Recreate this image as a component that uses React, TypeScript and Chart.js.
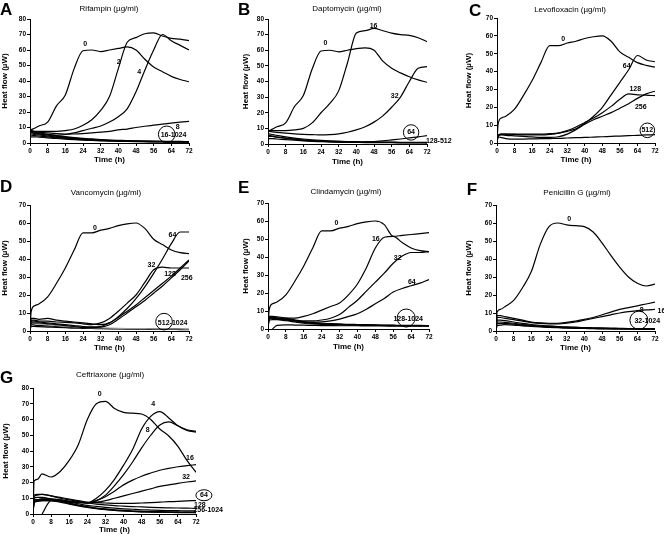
import React, { useEffect, useRef } from "react";
import { Chart, registerables } from "chart.js";
Chart.register(...registerables);

const FONT = '"Liberation Sans", Arial, sans-serif';

// shared time grid (h)
const hours = [0, 0.5, 2, 4, 8, 12, 16, 20, 24, 28, 32, 36, 40, 44, 48, 52, 56, 60, 64, 68, 72];
const xTicks = [0, 8, 16, 24, 32, 40, 48, 56, 64, 72];

// A: Rifampin
const rif0 = [8, 8.5, 9.5, 11, 13.5, 24, 31, 48, 59.5, 60, 59, 60, 61, 62, 60, 54, 49, 46, 43, 41, 39.5];
const rif2 = [8, 8, 7.5, 7.5, 7.5, 7.5, 8, 9, 11.5, 15, 21, 30, 48, 65, 68, 70.5, 71, 69, 67.5, 67, 66];
const rif4 = [7, 7, 6.5, 6, 5.5, 5, 5.5, 6.5, 8, 9.5, 11, 13.5, 17, 22, 33, 47, 60, 70, 66, 63, 60];
const rif8 = [8, 8, 7.5, 7, 6.5, 6, 5.8, 5.8, 6, 6.5, 7, 7.5, 8.5, 9, 10, 10.8, 11.5, 12.2, 12.8, 13.5, 14];
const rifHi1 = [7.5, 7.5, 7, 6.6, 5.6, 4.8, 4.1, 3.5, 3, 2.6, 2.2, 1.9, 1.7, 1.5, 1.4, 1.3, 1.2, 1.1, 1.0, 1.0, 0.9];
const rifHi2 = [6.5, 6.5, 6.2, 5.8, 5, 4.3, 3.7, 3.1, 2.7, 2.3, 2, 1.7, 1.5, 1.4, 1.3, 1.2, 1.1, 1, 0.9, 0.9, 0.8];
const rifHi3 = [5.5, 5.8, 5.5, 5.2, 4.5, 3.8, 3.3, 2.8, 2.4, 2.1, 1.8, 1.6, 1.4, 1.2, 1.1, 1, 0.9, 0.9, 0.8, 0.8, 0.7];
const rifHi4 = [4.5, 5, 4.8, 4.5, 3.9, 3.4, 2.9, 2.5, 2.1, 1.8, 1.6, 1.4, 1.2, 1.1, 1, 0.9, 0.8, 0.8, 0.7, 0.7, 0.6];
const rifHi5 = [3, 4, 4, 3.8, 3.3, 2.9, 2.5, 2.1, 1.8, 1.6, 1.4, 1.2, 1.1, 1, 0.9, 0.8, 0.7, 0.7, 0.6, 0.6, 0.5];

// B: Daptomycin
const dap0 = [8, 8.5, 9.5, 11, 13.5, 24, 31, 48, 59.5, 60, 59, 60, 61, 61.5, 60, 53, 48.5, 45.5, 43, 41, 39.5];
const dap16 = [8.5, 8.5, 8.5, 8.5, 8.5, 9, 10, 13.5, 20, 26, 34, 52, 71, 72.5, 74, 72.5, 71, 70, 69.5, 68, 65.5];
const dap32 = [8, 8, 7.8, 7.5, 7, 6.5, 6.2, 6, 5.8, 6, 6.5, 7.5, 9, 11, 14, 18, 23.5, 30, 40, 48.5, 49.5];
const dap64 = [5, 5.5, 5, 4.5, 3.6, 2.9, 2.3, 1.9, 1.6, 1.4, 1.2, 1.1, 1.1, 1.3, 1.6, 2, 2.6, 3.2, 3.9, 4.6, 5.3];
const dapHi1 = [6, 6.5, 6, 5.5, 4.6, 3.8, 3.2, 2.7, 2.3, 2, 1.8, 1.6, 1.5, 1.4, 1.3, 1.2, 1.2, 1.1, 1.1, 1, 1];
const dapHi2 = [4, 5, 4.8, 4.4, 3.7, 3.1, 2.6, 2.2, 1.9, 1.7, 1.5, 1.4, 1.3, 1.2, 1.1, 1, 1, 0.9, 0.9, 0.9, 0.8];
const dapHi3 = [2, 3.5, 3.4, 3.2, 2.8, 2.4, 2, 1.7, 1.5, 1.3, 1.2, 1.1, 1, 0.9, 0.9, 0.8, 0.8, 0.7, 0.7, 0.7, 0.6];

// C: Levofloxacin
const levo0 = [0, 10.5, 14, 15, 19, 26.5, 35, 45, 54.5, 54.5, 56, 57, 58.5, 59.5, 60, 57, 51, 48, 45, 43.5, 42.5];
const levo64 = [0, 4, 5, 5, 5, 5, 5, 5, 5.2, 5.5, 6.5, 8, 11, 15, 20, 27, 34, 41, 49, 46.5, 45.5];
const levo128 = [0, 4.5, 5, 5, 4.8, 4.6, 4.5, 4.5, 4.8, 5.5, 7, 9, 11.5, 14, 17, 20.5, 24.5, 27.5, 27, 26.8, 26.5];
const levo256 = [0, 4, 4.5, 4.3, 4, 3.7, 3.4, 3.2, 3.2, 3.5, 5, 7.5, 10.5, 13, 15, 17, 19.5, 22, 25, 27.5, 29];
const levo512 = [0, 3.5, 3, 2.5, 2.2, 2.2, 2.3, 2.4, 2.5, 2.6, 2.8, 3, 3.1, 3.3, 3.5, 3.7, 3.9, 4.1, 4.3, 4.5, 4.7];

// D: Vancomycin
const vanc0 = [0, 10.5, 14, 15, 19, 26.5, 35, 45, 54.5, 54.5, 56, 57, 58.5, 59.5, 60, 57, 51, 48, 45, 43.5, 43];
const vanc32 = [0, 6, 6, 5.5, 5.5, 5, 4.8, 4.5, 4, 3.5, 4.5, 7, 11, 15.5, 20, 27, 34, 35.5, 35, 35, 35];
const vanc64 = [0, 7, 7, 6.5, 7, 6, 5.5, 5, 4.5, 4, 3.5, 4.5, 8, 12.5, 18, 24.5, 32, 40, 48.5, 55, 55];
const vanc128 = [0, 5.5, 5.5, 5, 4.5, 4, 3.5, 3, 2.5, 2.3, 2.5, 4.5, 7.5, 11, 14.5, 18.5, 22.5, 26.5, 30.5, 35, 39.5];
const vanc256 = [0, 4.5, 4.5, 4.5, 4, 3.5, 3, 2.5, 2, 2, 2.2, 3.5, 6.5, 10, 13.5, 17, 21, 25, 29.5, 34, 39];
const vancHi1 = [0, 4.5, 4.2, 4, 3.5, 3, 2.6, 2.3, 2, 1.8, 1.7, 1.6, 1.5, 1.4, 1.3, 1.3, 1.2, 1.2, 1.1, 1.1, 1];
const vancHi2 = [0, 3.5, 3.3, 3.1, 2.8, 2.5, 2.2, 2, 1.8, 1.6, 1.5, 1.4, 1.3, 1.2, 1.2, 1.1, 1.1, 1, 1, 1, 0.9];
const vancHi3 = [0, 2.5, 2.5, 2.4, 2.2, 2, 1.8, 1.6, 1.5, 1.4, 1.3, 1.2, 1.1, 1.1, 1, 1, 0.9, 0.9, 0.9, 0.8, 0.8];

// E: Clindamycin
const clin0 = [0, 10.5, 14, 15, 19, 26.5, 35, 45, 54.5, 54.5, 56, 57, 58.5, 59.5, 60, 58, 51.5, 52, 52.5, 53, 53.5];
const clin16 = [0, 6.5, 6.5, 6.2, 6, 6, 7, 8.5, 10.5, 12.5, 14.5, 19, 25, 34, 45, 51, 51.5, 48, 45, 43.5, 43];
const clin32 = [0, 6.5, 6.5, 6, 5.5, 5, 4.5, 4.5, 5, 6, 8, 12, 16, 21, 26, 31, 36.5, 40.5, 42.5, 42.5, 43];
const clin64 = [0, 6, 6, 5.5, 5, 4.5, 4, 3.8, 4, 4.5, 5.5, 7, 8.5, 11, 14, 17, 20.5, 22.5, 24, 25.5, 27.5];
const clinHi1 = [0, 7, 7, 6.8, 6, 5, 4, 3.5, 3.2, 3, 2.8, 2.6, 2.5, 2.4, 2.3, 2.2, 2.1, 2, 2, 2, 1.9];
const clinHi2 = [0, 6, 6, 5.8, 5.2, 4.4, 3.6, 3.1, 2.8, 2.6, 2.5, 2.4, 2.3, 2.2, 2.1, 2, 2, 1.9, 1.9, 1.8, 1.8];
const clinHi3 = [0, 5, 5.2, 5.2, 4.6, 3.9, 3.2, 2.8, 2.6, 2.4, 2.3, 2.2, 2.1, 2, 2, 1.9, 1.9, 1.8, 1.8, 1.7, 1.7];
const clinHi4 = [null, null, 0, 2, 2.3, 2.2, 2.1, 2, 1.9, 1.9, 1.8, 1.8, 1.8, 1.7, 1.7, 1.7, 1.6, 1.6, 1.6, 1.6, 1.6];

// F: Penicillin G
const pen0 = [0, 10.5, 12, 13.5, 17, 24, 33, 48, 58, 60, 59, 58.5, 58, 55, 49, 42, 35.5, 30, 26.5, 25, 26];
const pen8 = [0, 8.5, 8.5, 8, 7, 6, 5, 4.5, 4.3, 4.3, 4.8, 5.5, 6.5, 7.5, 9, 10.5, 12, 13, 14, 15, 16];
const pen16 = [0, 7.5, 7.5, 7, 6.3, 5.5, 4.7, 4.2, 4, 4, 4.3, 5, 6, 7, 8, 9, 10, 10.8, 11.3, 11.7, 12];
const penHi1 = [0, 6, 6, 5.8, 5, 4.2, 3.6, 3.2, 2.8, 2.5, 2.3, 2.1, 1.9, 1.8, 1.7, 1.6, 1.5, 1.4, 1.4, 1.3, 1.3];
const penHi2 = [0, 5, 5, 4.8, 4.3, 3.7, 3.2, 2.8, 2.5, 2.2, 2, 1.8, 1.7, 1.6, 1.5, 1.4, 1.3, 1.3, 1.2, 1.2, 1.1];
const penHi3 = [0, 4, 4.2, 4.2, 3.8, 3.3, 2.9, 2.5, 2.2, 2, 1.8, 1.6, 1.5, 1.4, 1.3, 1.2, 1.2, 1.1, 1.1, 1, 1];
const penHi4 = [0, 3, 3.3, 3.5, 3.3, 2.9, 2.6, 2.3, 2, 1.8, 1.6, 1.5, 1.4, 1.3, 1.2, 1.1, 1.1, 1, 1, 0.9, 0.9];

// G: Ceftriaxone
const ceft0 = [0, 21, 22, 25.5, 23.5, 27, 34, 44, 60, 70, 71.5, 67, 64.5, 64, 63.5, 60, 54, 49.5, 43, 34, 26.5];
const ceft4 = [0, 9, 9, 9.5, 9.5, 9, 8, 7.5, 7, 10, 15, 22, 31, 41, 54, 62, 65, 61, 56, 53, 52];
const ceft8 = [0, 8.5, 9, 9.5, 9.5, 9, 8, 7.5, 7, 8.5, 12, 18, 25, 33, 42, 50, 56.5, 58.5, 56, 53.5, 52.5];
const ceft16 = [0, 8, 8.5, 9, 9, 8.5, 8, 7.5, 7, 8.5, 11, 14.5, 18.5, 21.5, 24, 26, 27.8, 29, 30, 30.7, 31.3];
const ceft32 = [0, 7.5, 8, 8.5, 8.5, 8, 7.5, 7, 7, 7.5, 8.5, 10, 11.5, 13, 14.5, 16, 17.5, 18.5, 19.5, 20.3, 21];
const ceft64 = [0, 12, 12.5, 12.5, 11.5, 10.5, 9.5, 8.5, 7.5, 7.2, 7, 6.8, 6.7, 6.8, 7, 7.2, 7.5, 7.8, 8, 8.3, 8.5];
const ceft128 = [0, 11, 12, 12.5, 11.5, 10, 9, 8, 7, 6.3, 5.8, 5.3, 5, 4.7, 4.5, 4.2, 4, 3.9, 3.8, 3.7, 3.6];
const ceftHi1 = [0, 10, 10.5, 10.5, 9.5, 8.5, 7.5, 6.5, 5.5, 4.8, 4.2, 3.7, 3.3, 3, 2.7, 2.5, 2.3, 2.2, 2.1, 2, 2];
const ceftHi2 = [0, 8.5, 9, 9.5, 9, 8, 6.8, 5.6, 4.6, 3.8, 3.2, 2.7, 2.3, 2, 1.8, 1.6, 1.5, 1.4, 1.3, 1.2, 1.2];
const ceftHi3 = [0, 7.5, 8, 8.5, 8.5, 7.5, 6.3, 5.2, 4.2, 3.4, 2.8, 2.3, 1.9, 1.6, 1.4, 1.3, 1.2, 1.1, 1, 1, 0.9];
const ceftHi4 = [null, null, null, 0, 8.5, 8, 6.8, 5.5, 4.5, 3.6, 2.9, 2.3, 1.9, 1.6, 1.4, 1.2, 1.1, 1, 0.9, 0.9, 0.8];

type Label = { text: string; x: number; y: number; align?: CanvasTextAlign };
type Circle = { x: number; y: number; rx: number; ry: number };
type Panel = {
  letter: string; title: string; yMax: number;
  series: (number | null)[][]; gray?: number[];
  labels: Label[]; circles: Circle[];
  left: number; top: number;
  x0: number; x72: number; yTop: number; yBottom: number;
  letterX: number; letterBase: number; titleX: number; titleY: number;
  yTitlePad: number; xTitleY: number;
};

const W = 240;
const H = 180;

const panels: Panel[] = [
  {
    letter: "A", title: "Rifampin (\u00b5g/ml)", yMax: 80,
    series: [rif0, rif2, rif4, rif8, rifHi1, rifHi2, rifHi3, rifHi4, rifHi5],
    labels: [
      { text: "0", x: 25, y: 64 }, { text: "2", x: 40.2, y: 52.4 }, { text: "4", x: 49.5, y: 46 },
      { text: "8", x: 66.9, y: 10.5 }, { text: "16-1024", x: 65, y: 5 },
    ],
    circles: [{ x: 61.9, y: 5.6, rx: 8.3, ry: 8.3 }],
    left: 0, top: 0, x0: 30, x72: 189, yTop: 19, yBottom: 143,
    letterX: 0, letterBase: 15, titleX: 109, titleY: 8.5, yTitlePad: 0, xTitleY: 159.5,
  },
  {
    letter: "B", title: "Daptomycin (\u00b5g/ml)", yMax: 80,
    series: [dap0, dap16, dap32, dap64, dapHi1, dapHi2, dapHi3],
    labels: [
      { text: "0", x: 26, y: 64.5 }, { text: "16", x: 47.8, y: 75.5 }, { text: "32", x: 57.4, y: 31 },
      { text: "64", x: 64.8, y: 7.4 }, { text: "128-512", x: 71.5, y: 2, align: "left" },
    ],
    circles: [{ x: 64.8, y: 7.4, rx: 7.7, ry: 7.7 }],
    left: 222, top: 0, x0: 46, x72: 205, yTop: 19, yBottom: 144,
    letterX: 16, letterBase: 15, titleX: 125, titleY: 8.5, yTitlePad: 18.5, xTitleY: 161.7,
  },
  {
    letter: "C", title: "Levofloxacin (\u00b5g/ml)", yMax: 70,
    series: [levo0, levo64, levo128, levo256, levo512],
    labels: [
      { text: "0", x: 30.2, y: 58.2 }, { text: "64", x: 59.1, y: 43.3 }, { text: "128", x: 63, y: 30 },
      { text: "256", x: 65.5, y: 20.3 }, { text: "512", x: 68.5, y: 7.1 },
    ],
    circles: [{ x: 68.5, y: 7.1, rx: 7.3, ry: 7.3 }],
    left: 444, top: 0, x0: 53, x72: 211, yTop: 18, yBottom: 143,
    letterX: 25, letterBase: 15.5, titleX: 126, titleY: 9.3, yTitlePad: 20, xTitleY: 160,
  },
  {
    letter: "D", title: "Vancomycin (\u00b5g/ml)", yMax: 70,
    series: [vanc0, vanc32, vanc64, vanc128, vanc256, vancHi1, vancHi2, vancHi3], gray: [5],
    labels: [
      { text: "0", x: 29.4, y: 57.4 }, { text: "64", x: 64.5, y: 53.3 }, { text: "32", x: 55, y: 36.7 },
      { text: "128", x: 63.4, y: 31.5 }, { text: "256", x: 71, y: 29.6 }, { text: "512-1024", x: 64.6, y: 4.6 },
    ],
    circles: [{ x: 60.7, y: 5.2, rx: 8.3, ry: 8.3 }],
    left: 0, top: 180, x0: 30, x72: 189, yTop: 25, yBottom: 151,
    letterX: 0, letterBase: 12, titleX: 106, titleY: 12.3, yTitlePad: 0, xTitleY: 167.7,
  },
  {
    letter: "E", title: "Clindamycin (\u00b5g/ml)", yMax: 70,
    series: [clin0, clin16, clin32, clin64, clinHi1, clinHi2, clinHi3, clinHi4],
    labels: [
      { text: "0", x: 30.6, y: 58.9 }, { text: "16", x: 48.2, y: 49.7 }, { text: "32", x: 58, y: 39.2 },
      { text: "64", x: 64.3, y: 26.3 }, { text: "128-1024", x: 62.7, y: 5.5 },
    ],
    circles: [{ x: 61.8, y: 6.1, rx: 9, ry: 9 }],
    left: 222, top: 180, x0: 46, x72: 207, yTop: 23, yBottom: 149,
    letterX: 16, letterBase: 13.3, titleX: 124, titleY: 11.7, yTitlePad: 18.5, xTitleY: 166.7,
  },
  {
    letter: "F", title: "Penicillin G (\u00b5g/ml)", yMax: 70,
    series: [pen0, pen8, pen16, penHi1, penHi2, penHi3, penHi4],
    labels: [
      { text: "0", x: 33.1, y: 62.2 }, { text: "8", x: 66, y: 11.5 }, { text: "16", x: 74.9, y: 11 },
      { text: "32-1024", x: 68.5, y: 5.4 },
    ],
    circles: [{ x: 64.7, y: 6, rx: 9, ry: 9 }],
    left: 444, top: 180, x0: 52, x72: 211, yTop: 25, yBottom: 151,
    letterX: 22.7, letterBase: 15, titleX: 133, titleY: 12.3, yTitlePad: 20, xTitleY: 167.7,
  },
  {
    letter: "G", title: "Ceftriaxone (\u00b5g/ml)", yMax: 80,
    series: [ceft0, ceft4, ceft8, ceft16, ceft32, ceft64, ceft128, ceftHi1, ceftHi2, ceftHi3, ceftHi4],
    labels: [
      { text: "0", x: 29.5, y: 76 }, { text: "4", x: 53.1, y: 69.6 }, { text: "8", x: 50.7, y: 53.3 },
      { text: "16", x: 69.3, y: 35.2 }, { text: "32", x: 67.6, y: 23.6 }, { text: "64", x: 75.5, y: 11.9 },
      { text: "128", x: 73.7, y: 5.9 }, { text: "256-1024", x: 77.4, y: 2.3 },
    ],
    circles: [{ x: 75.5, y: 11.9, rx: 8, ry: 5.5 }],
    left: 0, top: 360, x0: 33, x72: 196, yTop: 28, yBottom: 154,
    letterX: 0, letterBase: 22.7, titleX: 110, titleY: 15, yTitlePad: 1, xTitleY: 169.5,
  },
];

function makeAnnotator(p: Panel) {
  return {
    id: "annot" + p.letter,
    afterDraw(chart: any) {
      const ctx: CanvasRenderingContext2D = chart.ctx;
      const xs = chart.scales.x;
      const ys = chart.scales.y;
      ctx.save();
      ctx.fillStyle = "#000";
      ctx.strokeStyle = "#000";
      ctx.font = `bold 17px ${FONT}`;
      ctx.textAlign = "left";
      ctx.textBaseline = "alphabetic";
      ctx.fillText(p.letter, p.letterX, p.letterBase);
      ctx.font = `8px ${FONT}`;
      ctx.textAlign = "center";
      ctx.textBaseline = "middle";
      ctx.fillText(p.title, p.titleX, p.titleY);
      ctx.lineWidth = 1;
      for (const c of p.circles) {
        ctx.beginPath();
        ctx.ellipse(xs.getPixelForValue(c.x), ys.getPixelForValue(c.y), c.rx, c.ry, 0, 0, Math.PI * 2);
        ctx.stroke();
      }
      ctx.font = `bold 7px ${FONT}`;
      for (const l of p.labels) {
        ctx.textAlign = l.align || "center";
        ctx.fillText(l.text, xs.getPixelForValue(l.x), ys.getPixelForValue(l.y));
      }
      ctx.restore();
    },
  };
}

function PanelChart({ p }: { p: Panel }) {
  const ref = useRef<HTMLCanvasElement | null>(null);
  useEffect(() => {
    if (!ref.current) return;
    const tickFont = { family: FONT, size: 6.5, weight: "bold" as const };
    const titleFont = { family: FONT, size: 8, weight: "bold" as const };
    const gridOpts = { display: true, drawOnChartArea: false, drawTicks: true, tickLength: 3, color: "#000", lineWidth: 1 };
    const chart = new Chart(ref.current, {
      type: "line",
      data: {
        datasets: p.series.map((vals, si) => ({
          data: hours.map((h, i) => ({ x: h, y: vals[i] as any })),
          borderColor: p.gray && p.gray.includes(si) ? "#9a9a9a" : "#000",
          borderWidth: 1.2,
          pointRadius: 0,
          fill: false,
          cubicInterpolationMode: "monotone" as const,
          spanGaps: false,
        })),
      },
      options: {
        responsive: false,
        animation: false,
        devicePixelRatio: 1,
        layout: { padding: { left: 0, top: p.yTop, right: W - p.x72, bottom: 0 } },
        plugins: { legend: { display: false }, tooltip: { enabled: false }, title: { display: false } },
        scales: {
          x: {
            type: "linear", min: 0, max: 72,
            afterBuildTicks: (s: any) => { s.ticks = xTicks.map((v) => ({ value: v })); },
            ticks: { font: tickFont, color: "#000", padding: 1, maxRotation: 0, autoSkip: false },
            grid: gridOpts,
            border: { display: true, color: "#000", width: 1 },
            title: { display: true, text: "Time (h)", font: titleFont, color: "#000", padding: { top: 0, bottom: H - p.xTitleY - 4.8 } },
            afterFit: (s: any) => { s.height = H - p.yBottom; },
          },
          y: {
            type: "linear", min: 0, max: p.yMax,
            ticks: { stepSize: 10, font: tickFont, color: "#000", padding: 1 },
            grid: gridOpts,
            border: { display: true, color: "#000", width: 1 },
            title: { display: true, text: "Heat flow (\u00b5W)", font: titleFont, color: "#000", padding: { top: p.yTitlePad, bottom: 0 } },
            afterFit: (s: any) => { s.width = p.x0; },
          },
        },
      } as any,
      plugins: [makeAnnotator(p)],
    });
    return () => chart.destroy();
  }, [p]);
  return (
    <canvas
      ref={ref}
      width={W}
      height={H}
      style={{ position: "absolute", left: p.left, top: p.top, width: W, height: H }}
    />
  );
}

export default function App() {
  return (
    <div style={{ position: "absolute", left: 0, top: 0, width: 664, height: 534, overflow: "hidden", background: "#fff" }}>
      {panels.map((p) => (
        <PanelChart key={p.letter} p={p} />
      ))}
    </div>
  );
}
